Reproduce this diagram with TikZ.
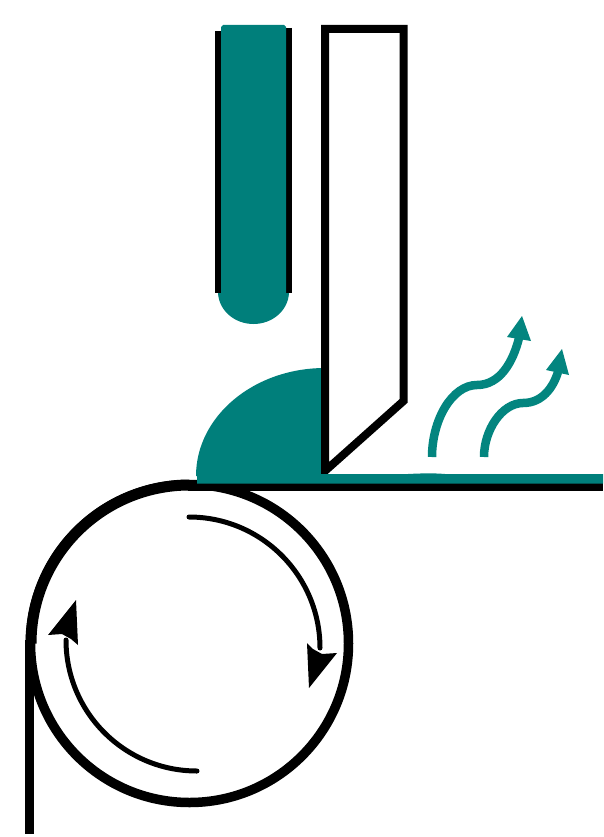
\documentclass[tikz,border=0pt]{standalone}
\definecolor{tealfill}{HTML}{007F7B}
\definecolor{tealsteam}{HTML}{03857F}
\tikzset{
  belt/.style={draw=black,line width=9.5pt},
  thinarc/.style={draw=black,line width=5pt,line cap=round},
  steam/.style={draw=tealsteam,line width=8.5pt},
  bladeline/.style={draw=black,line width=8pt,line join=miter},
  nozzleside/.style={draw=black,line width=6.5pt}
}
\begin{document}
\begin{tikzpicture}[x=1pt,y=-1pt]
\useasboundingbox (0,0) rectangle (603,837);
% nozzle
\draw[nozzleside] (218,31) -- (218,293);
\draw[nozzleside] (289,28) -- (289,293);
\fill[tealfill] (223,25) -- (284,25) -- (286,27) -- (286,293) -- (289,293)
  .. controls (288,311) and (272,324) .. (253.5,324)
  .. controls (235,324) and (219,311) .. (218,293) -- (221,293) -- (221,27) -- cycle;
% molten bead
\fill[tealfill] (196,476) arc[start angle=180,end angle=270,x radius=129,y radius=108] -- (325,476) -- cycle;
% blade
\draw[bladeline,fill=white] (325,29) -- (403.5,29) -- (403.5,401) -- (325,471) -- cycle;
% roller
\draw[belt] (189.5,643.5) circle[radius=159];
\draw[draw=black,line width=11pt] (31,643.5) arc[start angle=180,end angle=270,radius=158.5];
\draw[draw=black,line width=9pt] (29.5,640) -- (29.5,834);
% substrate
\draw[draw=black,line width=8pt] (188,487) -- (603,487);
\fill[tealfill] (197,474) -- (408,474) .. controls (416,473.6) and (432,472.8) .. (445,474) -- (603,474) -- (603,483.5) -- (197,483.5) -- cycle;
% rotation arrows
\draw[thinarc] (189,517) arc[start angle=-90,end angle=0,radius=131];
\fill[black] (309,688) -- (337,653) -- (322,654) -- (313,649) -- (307,643) -- cycle;
\draw[thinarc] (197,771) arc[start angle=90,end angle=180,radius=131];
\fill[black] (76,600) -- (48,635) -- (62,634) -- (71,639) -- (78,645) -- cycle;
% steam arrows
\draw[steam] (432,457) .. controls (432,420) and (452,385) .. (477,385)
  .. controls (500,385) and (513,362) .. (519,338);
\fill[tealsteam] (522,316) -- (507,337) -- (531,341) -- cycle;
\draw[steam] (484,457) .. controls (484,430) and (502,403) .. (523,403)
  .. controls (542,403) and (553,388) .. (558,372);
\fill[tealsteam] (562,349) -- (546,370) -- (569,375) -- cycle;
\end{tikzpicture}
\end{document}
